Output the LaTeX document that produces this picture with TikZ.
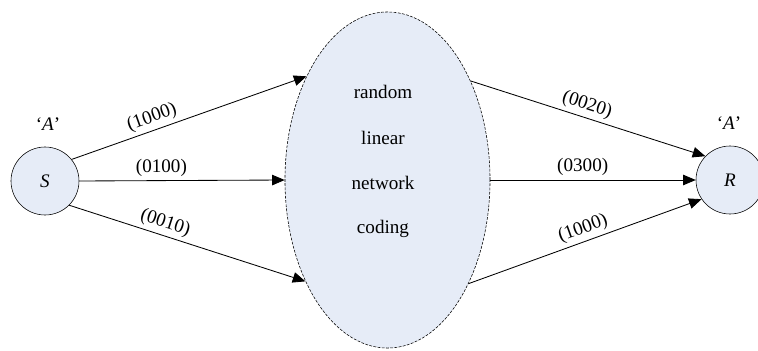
\documentclass[tikz,border=0pt]{standalone}
\usepackage{fontspec}
\setmainfont{Liberation Serif}
\usetikzlibrary{shapes.geometric, arrows.meta}
\definecolor{nodefill}{RGB}{230,236,247}

\begin{document}
\begin{tikzpicture}[x=0.025cm, y=0.025cm, font=\fontsize{13.6}{16}\selectfont]
    % Styles for the nodes and the arrows
    \tikzstyle{end node}=[circle, draw, fill=nodefill, minimum size=1.7cm, inner sep=0pt]
    \tikzstyle{code node}=[ellipse, draw, dash pattern=on 2pt off 1pt, fill=nodefill,
        minimum width=5.125cm, minimum height=8.4cm]
    \tikzstyle{link}=[-{Triangle[length=9pt,width=7.5pt]}, line width=0.6pt]
    \tikzstyle{vec}=[sloped, above, inner sep=2.5pt]

    \useasboundingbox (0,0) rectangle (758,350);

    % Source, coding cloud and receiver
    \node[code node] (code) at (387.5,170) {};
    \node[end node] (S) at (45,169) {\textit{S}};
    \node[end node] (R) at (730,170) {\textit{R}};
    \node (sA) at (48,226) {`\textit{A}'};
    \node (rA) at (729,227) {`\textit{A}'};

    % Text inside the ellipse
    \foreach \word/\y [count=\i] in {random/258, linear/212, network/167, coding/121}
        \node (w\i) at (383,\y) {\word};

    % Arrows from the source
    \draw[link] (S.39) -- node[vec, pos=0.36] {(1000)} (code.128);
    \draw[link] (S.east) -- node[vec, pos=0.4] {(0100)} (code.west);
    \draw[link] (S.-45) -- node[vec, pos=0.39] {(0010)} (code.231);

    % Arrows to the receiver
    \draw[link] (code.50) -- node[vec, pos=0.48] {(0020)} (R.136);
    \draw[link] (code.east) -- node[vec, pos=0.45] {(0300)} (R.west);
    \draw[link] (code.-52) -- node[vec, pos=0.51] {(1000)} (R.214);
\end{tikzpicture}
\end{document}
